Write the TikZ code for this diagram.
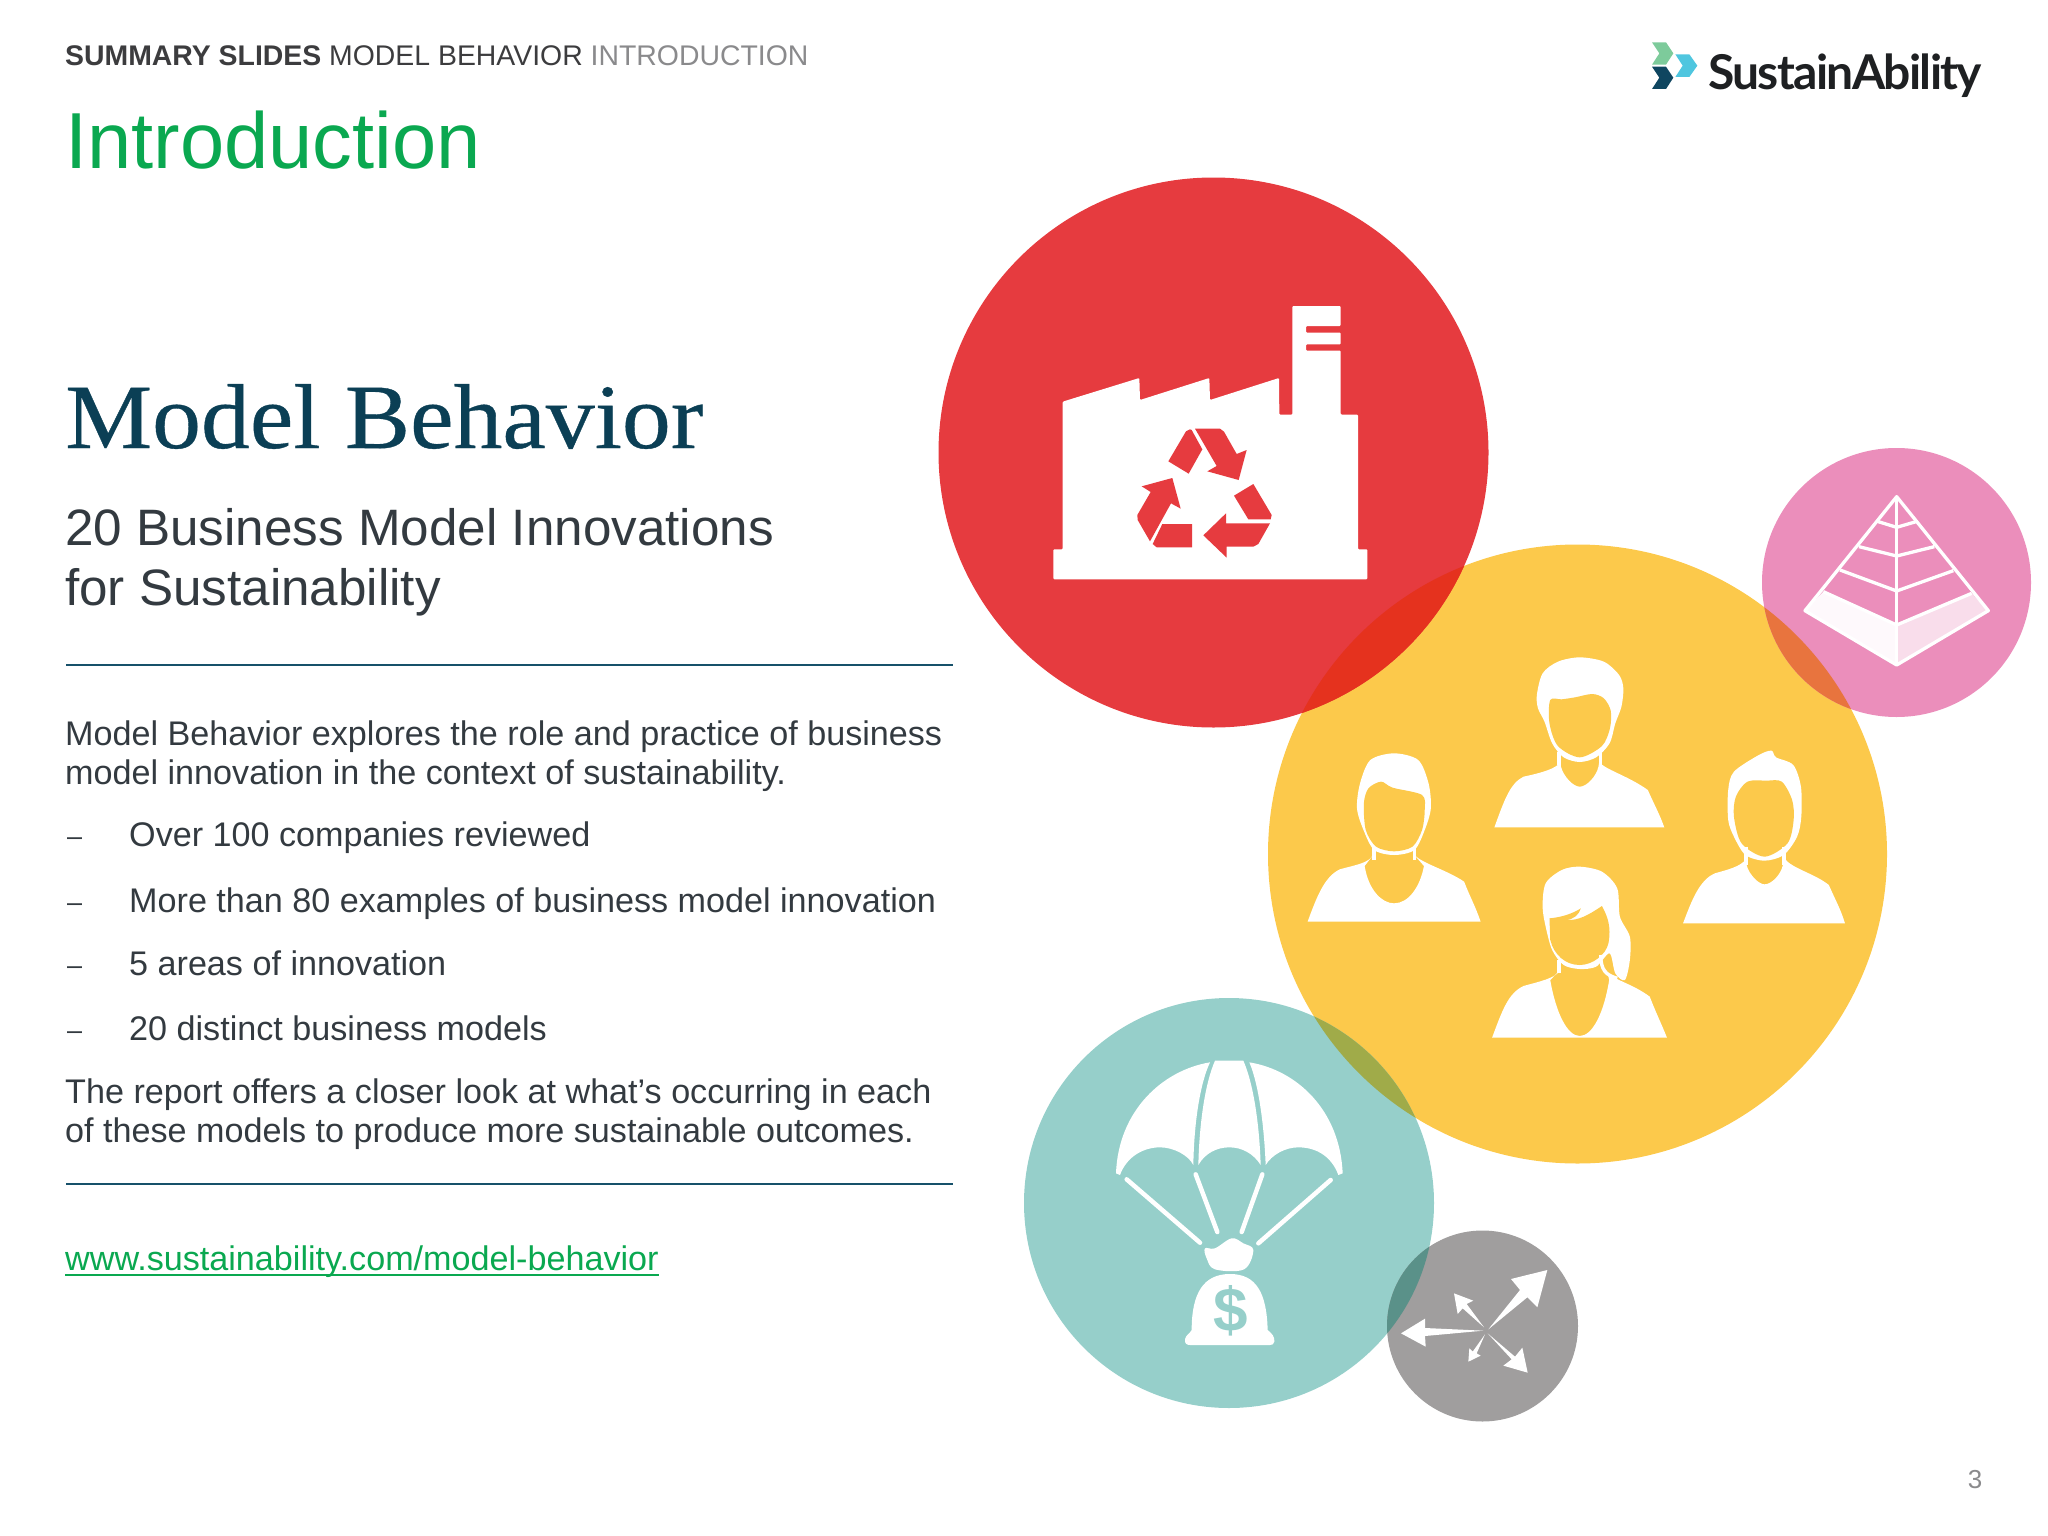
\documentclass[tikz,border=0pt]{standalone}
\usepackage{fontspec}
\setmainfont{Liberation Sans}
\newfontfamily\titlefont[FakeStretch=1.063,FakeBold=0.4]{Liberation Serif}
\newfontfamily\logofont[LetterSpace=-3.5]{Lato}
\definecolor{headgrey}{HTML}{3C3C3E}
\definecolor{headlight}{HTML}{8A8A8C}
\definecolor{slidegreen}{HTML}{0AA850}
\definecolor{titleblue}{HTML}{0B3F55}
\definecolor{bodygrey}{HTML}{333A40}
\definecolor{rulecol}{HTML}{17516A}
\definecolor{bubblered}{HTML}{E63B3F}
\definecolor{bubbleyellow}{HTML}{FCC94B}
\definecolor{bubblepink}{HTML}{EB8EBB}
\definecolor{bubbleteal}{HTML}{96CFCA}
\definecolor{bubblegrey}{HTML}{A09E9E}
\definecolor{mixredyellow}{HTML}{E5321E}
\definecolor{mixpinkyellow}{HTML}{E8743E}
\definecolor{mixtealyellow}{HTML}{A0AB49}
\definecolor{mixtealgrey}{HTML}{5A9189}
\definecolor{logogreen}{HTML}{7DCB9B}
\definecolor{logodark}{HTML}{0F4660}
\definecolor{logoblue}{HTML}{4FC6DF}
\definecolor{logotext}{HTML}{1E2022}
\tikzset{
  txt/.style={anchor=base west,inner sep=0pt,font=\fontsize{34.15}{40}\selectfont,text=bodygrey},
  sub/.style={txt,font=\fontsize{51.2}{60}\selectfont},
  head/.style={txt,font=\fontsize{28.4}{34}\selectfont,text=headgrey},
  rulex/.style={draw=rulecol,line width=1.6pt},
  cord/.style={draw=white,line width=4.5pt,line cap=round},
  neck/.style={draw=white,line width=3.4pt},
  pyr/.style={draw=white,line width=3.3pt,line join=round},
  zoomed/.style={x=0.33333pt,y=-0.33333pt},
  zoomedp/.style={x=0.3827pt,y=-0.33333pt}
}
\begin{document}
\begin{tikzpicture}[x=1pt,y=-1pt]
\useasboundingbox (0,0) rectangle (2048,1536);

%% header
\node[head] (crumb) at (65,66) {\textbf{SUMMARY SLIDES} MODEL BEHAVIOR \textcolor{headlight}{INTRODUCTION}};
\node[txt,font=\fontsize{79.5}{90}\selectfont,text=slidegreen] (intro) at (65,168) {Introduction};

%% logo
\begin{scope}[shift={(1640,20)},zoomed]
    \fill[logogreen] (36,67) -- (78,67) -- (100,100) -- (78,134) -- (36,134) -- (58,100) -- cycle;
    \fill[logodark] (36,140) -- (78,140) -- (100,173) -- (78,207) -- (36,207) -- (58,173) -- cycle;
    \fill[logoblue] (106,103) -- (148,103) -- (172,137) -- (148,171) -- (106,171) -- (128,137) -- cycle;
\end{scope}
\node[txt,font=\fontsize{48}{60}\logofont\bfseries\selectfont,text=logotext] (logo) at (1708,90) {SustainAbility};

%% left column
\node[txt,font=\fontsize{92}{100}\titlefont\selectfont,text=titleblue] (title) at (65,448) {Model Behavior};
\node[sub] (suba) at (65,545) {20 Business Model Innovations};
\node[sub] (subb) at (65,605) {for Sustainability};
\draw[rulex] (66,665) -- (953,665);

\node[txt] (para1) at (65,745) {Model Behavior explores the role and practice of business};
\node[txt] (para2) at (65,784) {model innovation in the context of sustainability.};
\foreach \y/\item in {846/Over 100 companies reviewed,
                      912/More than 80 examples of business model innovation,
                      975/5 areas of innovation,
                      1040/20 distinct business models}{
    \node[txt,font=\fontsize{27}{30}\selectfont,yshift=1pt] at (67,\y) {–};
    \node[txt] at (129,\y) {\item};
}
\node[txt] (para3) at (65,1103) {The report offers a closer look at what’s occurring in each};
\node[txt] (para4) at (65,1142) {of these models to produce more sustainable outcomes.};
\draw[rulex] (66,1184) -- (953,1184);
\node[txt,text=slidegreen] (link) at (65,1270) {www.sustainability.com/model-behavior};
\draw[slidegreen,line width=2pt] ([yshift=-4.5pt]link.base west) -- ([yshift=-4.5pt]link.base east);
\node[txt,anchor=base,font=\fontsize{26}{30}\selectfont,text=headlight] (page) at (1975,1488) {3};

%% bubbles
\coordinate (redc) at (1213.5,452.5);
\coordinate (yellowc) at (1577.5,854);
\coordinate (pinkc) at (1896.5,582.5);
\coordinate (tealc) at (1229,1203);
\coordinate (greyc) at (1482.5,1326);

\fill[bubbleyellow] (yellowc) circle (309.5);
\fill[bubblered] (redc) circle (275);
\fill[bubblepink] (pinkc) circle (134.5);
\fill[bubbleteal] (tealc) circle (205);
\fill[bubblegrey] (greyc) circle (95.5);
\begin{scope}
    \clip (yellowc) circle (309.5);
    \fill[mixredyellow] (redc) circle (275);
    \fill[mixpinkyellow] (pinkc) circle (134.5);
    \fill[mixtealyellow] (tealc) circle (205);
\end{scope}
\begin{scope}
    \clip (tealc) circle (205);
    \fill[mixtealgrey] (greyc) circle (95.5);
\end{scope}

%% factory
\begin{scope}[shift={(1000,250)},zoomed]
    \fill[white,rounded corners=1pt] (160,898) -- (188,898) -- (188,455) -- (418,384) -- (420,450) -- (628,384) -- (630,450)
        -- (837,384) -- (838,494) -- (877,494) -- (877,168) -- (1022,168) -- (1022,228) -- (918,228) -- (918,248)
        -- (1022,248) -- (1022,283) -- (918,283) -- (918,302) -- (1022,302) -- (1022,494) -- (1074,494) -- (1074,898)
        -- (1102,898) -- (1102,988) -- (160,988) -- cycle;
    \fill[bubblered] (585,536) -- (660,536) -- (672,545) -- (710,612) -- (740,600) -- (716,690) -- (622,664) -- (650,648) -- cycle;
    \fill[bubblered] (505,634) -- (558,544) -- (570,538) -- (575,540) -- (607,598) -- (566,671) -- cycle;
    \fill[bubblered] (517,684) -- (542,776) -- (513,760) -- (450,874) -- (413,810) -- (412,795) -- (452,726) -- (425,709) -- cycle;
    \fill[bubblered] (487,822) -- (576,822) -- (576,892) -- (470,892) -- (458,882) -- cycle;
    \fill[bubblered] (610,856) -- (678,790) -- (678,820) -- (810,820) -- (775,882) -- (760,890) -- (680,890) -- (680,923) -- cycle;
    \fill[bubblered] (702,737) -- (760,702) -- (815,795) -- (812,808) -- (745,808) -- cycle;
\end{scope}

%% people
\begin{scope}[shift={(1290,640)},zoomedp]
    % top
    \fill[white] plot[smooth cycle] coordinates {(645,165) (660,100) (700,65) (757,52) (820,65) (860,105) (871,145) (866,200) (850,250) (835,310) (800,352) (757,366) (715,352) (685,310) (665,245) (648,205)};
    \fill[bubbleyellow] plot[smooth cycle] coordinates {(680,180) (710,178) (745,172) (790,162) (820,175) (838,212) (836,265) (815,318) (757,352) (700,318) (678,250)};
    \draw[neck] (703,335) -- (703,375);
    \draw[neck] (812,335) -- (812,375);
    \fill[white] (534,562) .. controls (560,480) and (575,430) .. (610,410) .. controls (650,400) and (695,388) .. (708,365)
        -- (708,380) .. controls (715,410) and (740,440) .. (757,440) .. controls (775,440) and (800,410) .. (806,380) -- (808,365)
        .. controls (820,388) and (880,405) .. (935,450) .. controls (950,490) and (965,520) .. (978,562) -- cycle;
    % left
    \fill[white] plot[smooth cycle] coordinates {(175,505) (183,430) (210,360) (272,340) (335,360) (362,430) (368,505) (352,570) (325,630) (272,645) (220,630) (192,570)};
    \fill[bubbleyellow] plot[smooth cycle] coordinates {(193,490) (205,445) (238,425) (268,443) (345,465) (352,510) (345,570) (320,620) (272,634) (225,620) (198,570)};
    \draw[neck] (219,620) -- (219,660);
    \draw[neck] (325,620) -- (325,660);
    \fill[white] (46,845) .. controls (70,770) and (90,710) .. (130,688) .. controls (170,675) and (205,670) .. (217,645)
        -- (195,678) .. controls (205,750) and (240,790) .. (272,790) .. controls (310,790) and (340,740) .. (350,678) -- (325,645)
        .. controls (345,670) and (410,690) .. (455,725) .. controls (470,770) and (485,800) .. (498,845) -- cycle;
    % right
    \fill[white] plot[smooth cycle] coordinates {(1145,540) (1145,450) (1160,395) (1225,345) (1258,332) (1270,352) (1315,375) (1335,440) (1336,530) (1325,590) (1290,645) (1240,662) (1190,645) (1160,590)};
    \fill[bubbleyellow] plot[smooth cycle] coordinates {(1160,530) (1165,470) (1195,425) (1245,422) (1285,425) (1312,480) (1316,540) (1300,610) (1240,650) (1180,610)};
    \draw[neck] (1191,620) -- (1191,675);
    \draw[neck] (1291,620) -- (1291,675);
    \fill[white] (1027,850) .. controls (1050,780) and (1070,720) .. (1110,700) .. controls (1140,690) and (1180,680) .. (1193,655)
        -- (1193,675) .. controls (1200,705) and (1225,733) .. (1240,733) .. controls (1258,733) and (1282,705) .. (1288,675) -- (1292,655)
        .. controls (1310,685) and (1370,700) .. (1408,735) .. controls (1425,780) and (1440,810) .. (1450,850) -- cycle;
    % bottom
    \fill[white] plot[smooth cycle] coordinates {(660,800) (668,730) (710,690) (757,680) (815,695) (855,745) (862,830) (888,890) (888,960) (875,1020) (850,1000) (835,940) (800,980) (757,987) (715,975) (685,930) (668,860)};
    \fill[bubbleyellow] (678,835) .. controls (710,832) and (740,820) .. (760,805) .. controls (755,825) and (740,838) .. (722,840)
        .. controls (755,842) and (780,825) .. (815,798) .. controls (830,830) and (840,860) .. (832,910)
        .. controls (825,945) and (790,975) .. (757,975) .. controls (720,975) and (690,945) .. (680,900) -- cycle;
    \draw[neck] (703,960) -- (703,1000);
    \draw[neck] (812,945) .. controls (812,990) and (825,1005) .. (855,1015);
    \fill[white] (528,1193) .. controls (555,1110) and (570,1060) .. (610,1038) .. controls (650,1025) and (695,1015) .. (706,990)
        -- (680,1020) .. controls (695,1120) and (725,1188) .. (757,1188) .. controls (790,1188) and (820,1120) .. (834,1020) -- (830,1000)
        .. controls (850,1020) and (900,1035) .. (940,1070) .. controls (955,1115) and (970,1150) .. (985,1193) -- cycle;
\end{scope}

%% parachute
\begin{scope}[shift={(1090,1050)},zoomed]
    \fill[white] (360,37) .. controls (220,60) and (85,180) .. (78,370) -- (90,375) .. controls (110,320) and (160,292) .. (210,292)
        .. controls (250,292) and (295,315) .. (310,345) .. controls (312,220) and (330,100) .. (360,37) -- cycle;
    \fill[white] (375,32) -- (460,32) .. controls (490,100) and (508,220) .. (512,345) .. controls (490,310) and (455,292) .. (418,292)
        .. controls (380,292) and (345,310) .. (325,345) .. controls (328,220) and (345,100) .. (375,32) -- cycle;
    \fill[white] (478,37) .. controls (620,60) and (750,180) .. (758,370) -- (745,375) .. controls (725,320) and (680,292) .. (625,292)
        .. controls (585,292) and (545,315) .. (527,345) .. controls (522,220) and (505,100) .. (478,37) -- cycle;
    \draw[cord] (110,388) -- (330,578);
    \draw[cord] (317,373) -- (382,546);
    \draw[cord] (517,373) -- (455,546);
    \draw[cord] (722,390) -- (505,580);
    \fill[white] plot[smooth cycle,tension=0.6] coordinates {(345,595) (375,595) (425,565) (460,580) (490,600) (462,658) (375,658) (350,625)};
    \fill[white] (305,840) .. controls (305,730) and (340,672) .. (420,672) .. controls (500,672) and (530,730) .. (533,840)
        .. controls (545,850) and (555,860) .. (553,875) .. controls (553,883) and (545,885) .. (540,885) -- (300,885)
        .. controls (290,885) and (283,880) .. (285,868) .. controls (287,855) and (300,850) .. (305,840) -- cycle;
    \node[inner sep=0pt,font=\fontsize{62}{62}\bfseries\selectfont,text=bubbleteal] (dollar) at (421,783) {\$};
\end{scope}

%% arrows
\begin{scope}[shift={(1390,1240)},zoomed]
    \fill[white] (295,268) -- (390,150) -- (363,117) -- (472,90) -- (442,202) -- (412,172) -- cycle;
    \fill[white] (282,262) -- (230,192) -- (250,182) -- (192,160) -- (203,222) -- (218,205) -- cycle;
    \fill[white] (280,272) -- (105,264) -- (105,236) -- (33,280) -- (107,320) -- (105,288) -- cycle;
    \fill[white] (285,283) -- (248,335) -- (238,325) -- (235,365) -- (272,347) -- (260,340) -- cycle;
    \fill[white] (293,280) -- (375,350) -- (397,323) -- (413,398) -- (340,377) -- (365,358) -- cycle;
\end{scope}

%% pyramid
\begin{scope}[shift={(1770,450)},zoomed]
    \fill[white!95!bubblepink] (105,482) -- (160,425) -- (380,525) -- (380,645) -- cycle;
    \fill[white!70!bubblepink] (380,525) -- (605,430) -- (655,482) -- (380,645) -- cycle;
    \draw[pyr] (380,140) -- (105,482) -- (380,645) -- (655,482) -- cycle;
    \draw[pyr] (380,140) -- (380,645);
    \draw[pyr] (325,215) -- (380,232) -- (438,215);
    \draw[pyr] (267,290) -- (380,318) -- (493,290);
    \draw[pyr] (210,360) -- (380,423) -- (550,362);
    \draw[pyr] (160,425) -- (380,525) -- (605,430);
\end{scope}
\end{tikzpicture}
\end{document}
